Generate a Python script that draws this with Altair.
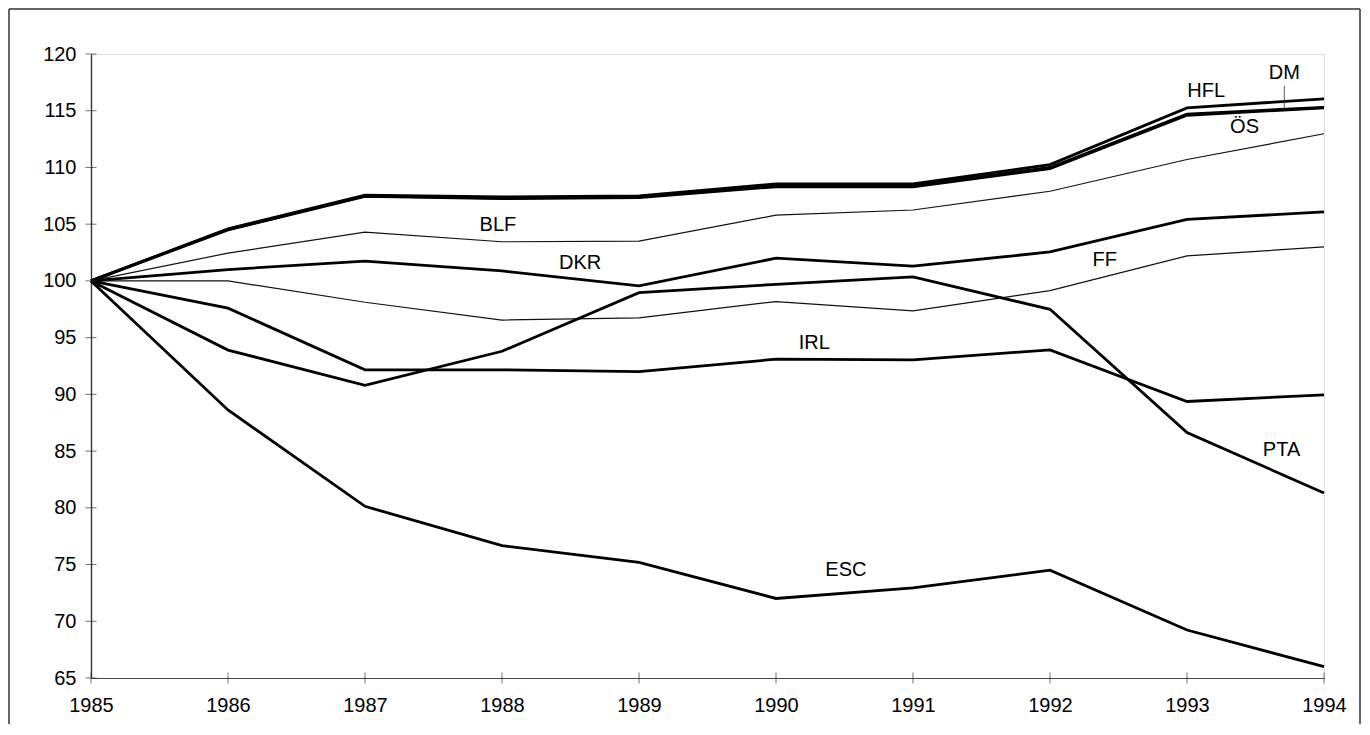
import altair as alt
import pandas as pd

years = [1985, 1986, 1987, 1988, 1989, 1990, 1991, 1992, 1993, 1994]

HFL = [100, 104.6, 107.55, 107.4, 107.5, 108.55, 108.55, 110.25, 115.25, 116.05]
DM = [100, 104.55, 107.5, 107.3, 107.4, 108.4, 108.4, 110.0, 114.7, 115.3]
OS = [100, 104.5, 107.45, 107.25, 107.35, 108.3, 108.3, 109.9, 114.6, 115.26]
BLF = [100, 102.45, 104.3, 103.45, 103.5, 105.8, 106.25, 107.9, 110.7, 112.97]
DKR = [100, 101.0, 101.75, 100.88, 99.56, 102.0, 101.3, 102.55, 105.43, 106.08]
FF = [100, 100.0, 98.12, 96.55, 96.75, 98.18, 97.36, 99.15, 102.2, 103.0]
IRL = [100, 97.6, 92.16, 92.16, 92.0, 93.1, 93.04, 93.92, 89.37, 89.96]
PTA = [100, 93.9, 90.8, 93.8, 98.97, 99.7, 100.35, 97.5, 86.64, 81.3]
ESC = [100, 88.62, 80.13, 76.67, 75.2, 72.01, 72.95, 74.5, 69.23, 66.0]

series = {"HFL": HFL, "DM": DM, "ÖS": OS, "BLF": BLF, "DKR": DKR,
          "FF": FF, "IRL": IRL, "PTA": PTA, "ESC": ESC}
thin_series = ["BLF", "FF"]
thick_series = [s for s in series if s not in thin_series]

label_text = ["HFL", "DM", "ÖS", "BLF", "DKR", "FF", "IRL", "PTA", "ESC"]
label_year = [1993.14, 1993.71, 1993.42, 1987.97, 1988.57, 1992.40, 1990.28, 1993.69, 1990.51]
label_value = [116.73, 118.35, 113.6, 104.93, 101.61, 101.8, 94.57, 85.09, 74.56]

leader_year = [1993.71]
leader_from = [117.2]
leader_to = [115.1]

y_ticks = list(range(65, 121, 5))

rows = [{"year": y, "series": name, "value": v}
        for name, vals in series.items() for y, v in zip(years, vals)]
df = pd.DataFrame(rows)
labels_df = pd.DataFrame({"year": label_year, "value": label_value, "text": label_text})
leader_df = pd.DataFrame({"year": leader_year, "v1": leader_from, "v2": leader_to})

FONT = "Liberation Sans"
xscale = alt.Scale(domain=[1985, 1994], nice=False, zero=False)
yscale = alt.Scale(domain=[65, 120], nice=False, zero=False)

xaxis = alt.Axis(values=years, format="d", title=None, grid=False, tickSize=0,
                 labelFontSize=20, labelFont=FONT, labelColor="black",
                 labelPadding=17, labelFlush=False, labelOverlap=False,
                 domainColor="#444", domainWidth=1.2)
yaxis = alt.Axis(values=y_ticks, title=None, grid=False, tickSize=0,
                 labelFontSize=20, labelFont=FONT, labelColor="black",
                 labelPadding=15, labelFlush=False, labelOverlap=False,
                 domainColor="#333", domainWidth=1.4)

base = alt.Chart(df)

thick = base.transform_filter(
    alt.FieldOneOfPredicate(field="series", oneOf=thick_series)
).mark_line(color="black", strokeWidth=2.8).encode(
    x=alt.X("year:Q", scale=xscale, axis=xaxis),
    y=alt.Y("value:Q", scale=yscale, axis=yaxis),
    detail="series:N",
)

thin = base.transform_filter(
    alt.FieldOneOfPredicate(field="series", oneOf=thin_series)
).mark_line(color="#111", strokeWidth=1.2).encode(
    x=alt.X("year:Q", scale=xscale),
    y=alt.Y("value:Q", scale=yscale),
    detail="series:N",
)

text = alt.Chart(labels_df).mark_text(
    font=FONT, fontSize=20, color="black", align="center", baseline="middle"
).encode(
    x=alt.X("year:Q", scale=xscale),
    y=alt.Y("value:Q", scale=yscale),
    text="text:N",
)

leader = alt.Chart(leader_df).mark_rule(color="#333", strokeWidth=0.8).encode(
    x=alt.X("year:Q", scale=xscale),
    y=alt.Y("v1:Q", scale=yscale),
    y2="v2:Q",
)

ytick_marks = alt.Chart(pd.DataFrame({"v": y_ticks})).mark_tick(
    orient="horizontal", size=11, thickness=1, color="#333"
).encode(
    y=alt.Y("v:Q", scale=yscale),
    x=alt.datum(1985),
)

xtick_marks = alt.Chart(pd.DataFrame({"year": years})).mark_tick(
    orient="vertical", size=11, thickness=1, color="#333"
).encode(
    x=alt.X("year:Q", scale=xscale),
    y=alt.datum(65),
)

dummy = alt.Data(values=[{"a": 0}])
frame_left = alt.Chart(dummy).mark_rule(color="#333", strokeWidth=1.5).encode(
    x=alt.value(-82), y=alt.value(-45), y2=alt.value(670))
frame_right = alt.Chart(dummy).mark_rule(color="#333", strokeWidth=1.5).encode(
    x=alt.value(1269), y=alt.value(-45), y2=alt.value(670))
frame_top = alt.Chart(dummy).mark_rule(color="#333", strokeWidth=1.5).encode(
    x=alt.value(-82), x2=alt.value(1269), y=alt.value(-45))

chart = alt.layer(
    frame_left, frame_right, frame_top,
    thin, thick, leader, text, ytick_marks, xtick_marks
).properties(
    width=1233, height=624, padding=0
).configure_view(
    stroke=None
).configure(background="white")

chart.save("out.html", embed_options={"renderer": "svg", "actions": False})
